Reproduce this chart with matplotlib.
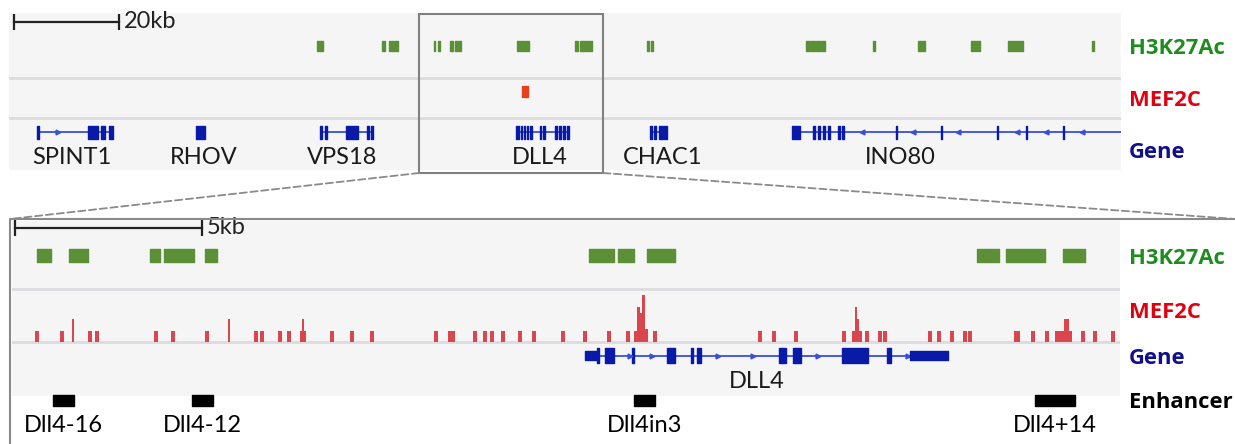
import matplotlib
matplotlib.use("Agg")
import matplotlib.pyplot as plt
from matplotlib.patches import Rectangle, ConnectionPatch
from matplotlib.lines import Line2D

plt.rcParams["font.family"] = ["Lato", "DejaVu Sans"]

# ---------------- data (positions in kb from the left edge of each view) ----------------
top_view_kb = 212.6
top_scale_kb = 20
top_zoom_kb = (78.4, 113.6)

top_h3k27ac = [(58.9, 60.0), (71.4, 71.8), (72.6, 72.9), (73.1, 73.4), (73.7, 74.3),
               (81.2, 81.4), (82.0, 82.4), (84.3, 84.9), (85.3, 85.7), (85.9, 86.4),
               (97.1, 97.7), (97.9, 98.5), (98.7, 99.4), (108.2, 108.8), (109.2, 110.0),
               (110.1, 110.9), (111.1, 111.5), (122.0, 122.4), (122.8, 123.1),
               (152.4, 153.2), (153.3, 154.1), (154.3, 155.1), (155.3, 156.0),
               (165.2, 165.5), (173.8, 174.4), (174.6, 175.2), (183.9, 184.4),
               (184.7, 185.1), (185.3, 185.7), (191.0, 191.6), (191.8, 192.4),
               (192.5, 193.1), (193.3, 193.9), (207.1, 207.4)]
top_mef2c = [(98.1, 99.2)]

top_gene_names = ["SPINT1", "RHOV", "VPS18", "DLL4", "CHAC1", "INO80"]
top_gene_label_kb = [12.0, 37.3, 63.7, 101.5, 125.0, 170.4]
top_gene_strand = ["+", "-", "+", "+", "+", "-"]
top_gene_span = [(5.4, 19.8), (35.8, 37.5), (59.5, 69.6), (96.9, 107.1),
                 (122.6, 125.8), (149.7, 212.6)]
top_gene_exons = [
    [(5.4, 5.8), (15.1, 17.0), (17.6, 18.4), (19.1, 19.9)],
    [(35.8, 36.1), (36.4, 37.5)],
    [(59.5, 59.9), (60.4, 60.8), (64.4, 66.7), (68.5, 68.8), (69.2, 69.6)],
    [(96.9, 97.5), (97.9, 98.1), (98.5, 98.7), (99.0, 99.2), (99.6, 100.0),
     (101.5, 101.7), (102.1, 102.5), (104.4, 104.8), (105.2, 105.6),
     (105.9, 106.3), (106.7, 107.1)],
    [(122.6, 122.9), (123.3, 123.7), (124.3, 125.0), (125.2, 125.8)],
    [(149.7, 151.2), (153.7, 154.1), (154.7, 155.1), (155.6, 156.0), (156.6, 157.0),
     (158.5, 158.9), (159.3, 159.7), (169.6, 169.8), (178.2, 178.4),
     (188.9, 189.1), (194.5, 194.7), (201.5, 201.7)],
]
top_gene_chevrons = [[9.4], [], [], [], [], [163.1, 172.8, 181.5, 192.7, 198.3, 205.2]]

bot_view_kb = 29.63
bot_scale_kb = 5
bot_h3k27ac = [(0.67, 1.04), (1.52, 2.03), (3.69, 3.96), (4.06, 4.87), (5.16, 5.48),
               (15.43, 16.10), (16.20, 16.63), (16.98, 17.73), (25.80, 26.39),
               (26.58, 27.62), (28.10, 28.69)]

mef2c_kb = [0.67, 1.34, 1.63, 2.09, 2.27, 3.85, 4.30, 5.21, 5.80, 6.52, 6.68, 7.17, 7.41,
            7.78, 7.78, 8.56, 9.09, 9.63, 11.34, 11.76, 12.38, 12.65, 12.83, 13.13, 13.58,
            13.96, 14.73, 15.32, 15.96, 16.47, 16.68, 16.75, 16.82, 16.89, 16.97, 17.19,
            20.00, 20.37, 20.96, 22.25, 22.50, 22.57, 22.62, 22.67, 22.86, 23.21, 23.34,
            24.55, 24.79, 25.13, 25.48, 25.61, 26.87, 27.30, 27.67, 27.94, 28.02, 28.10,
            28.20, 28.29, 28.64, 28.96, 29.44]
mef2c_signal = [1, 1, 2.1, 1, 1, 1, 1, 1, 2.1, 1, 1, 1, 1,
                1, 2.1, 1, 1, 1, 1, 1, 1, 1, 1, 1, 1,
                1, 1, 1, 1, 1, 1, 3.2, 2.6, 4.3, 1.2, 1,
                1, 1, 1, 1, 1, 3.2, 2.1, 1, 1, 1, 1,
                1, 1, 1, 1, 1, 1, 1, 1, 1, 1, 1,
                2.1, 1, 1, 1, 1]
mef2c_width = [0.1, 0.1, 0.06, 0.1, 0.1, 0.1, 0.1, 0.1, 0.06, 0.1, 0.1, 0.1, 0.1,
               0.16, 0.05, 0.1, 0.1, 0.1, 0.1, 0.19, 0.1, 0.1, 0.1, 0.1, 0.1,
               0.1, 0.1, 0.1, 0.1, 0.1, 0.1, 0.08, 0.08, 0.08, 0.1, 0.1,
               0.1, 0.1, 0.1, 0.1, 0.1, 0.06, 0.06, 0.1, 0.1, 0.1, 0.1,
               0.1, 0.1, 0.1, 0.1, 0.1, 0.17, 0.1, 0.1, 0.09, 0.09, 0.09,
               0.14, 0.1, 0.1, 0.1, 0.1]

dll4_span = (15.32, 25.03)
dll4_exons = [(15.64, 15.70), (15.86, 16.10), (16.58, 16.63), (17.51, 17.73), (18.16, 18.21),
              (18.32, 18.42), (20.51, 20.70), (20.88, 21.10), (22.19, 22.89), (23.40, 23.50)]
dll4_utrs = [(15.32, 15.66), (24.01, 25.03)]
dll4_chevrons = [16.52, 17.11, 18.88, 19.81, 21.55, 23.96]
dll4_label_kb = 19.92

enhancer_names = ["Dll4-16", "Dll4-12", "Dll4in3", "Dll4+14"]
enhancer_span = [(1.10, 1.66), (4.81, 5.37), (16.63, 17.19), (27.35, 28.42)]

# ---------------- style ----------------
W, H = 1235, 444
BG = "#f5f5f5"
SEP = "#dcdce0"
GREEN = "#5b9037"
RED = "#d9464d"
RED_TOP = "#e8401c"
BLUE = "#0a1aa8"
BLUE_LINE = "#3a4fd6"
FS = 17


def px_axes(x0, y0, x1, y1):
    return fig.add_axes([x0 / W, 1 - y1 / H, (x1 - x0) / W, (y1 - y0) / H])


def draw_gene(ax, span, exons, y, h, strand, chevrons):
    ax.plot(span, [y, y], color=BLUE_LINE, lw=1.3, solid_capstyle="butt", zorder=2)
    ax.broken_barh([(s, e - s) for s, e in exons], (y - h / 2, h), color=BLUE, zorder=3)
    if chevrons:
        ax.plot(chevrons, [y] * len(chevrons), ls="none",
                marker=">" if strand == "+" else "<", ms=3.5, color=BLUE_LINE, zorder=3)


fig = plt.figure(figsize=(W / 100, H / 100), dpi=100)

# ---------------- top overview ----------------
ax_t = px_axes(9, 12, 1121, 175)
ax_t.set_xlim(0, top_view_kb)
ax_t.set_ylim(175, 12)
ax_t.axis("off")
ax_t.add_patch(Rectangle((0, 13), top_view_kb, 157, color=BG, zorder=0, lw=0))
for ysep in (78, 118):
    ax_t.axhline(ysep, color=SEP, lw=2, zorder=1)

ax_t.plot([1.0, 1.0 + top_scale_kb], [22, 22], color="#222222", lw=1.6,
          marker="|", ms=11, mew=1.6)
ax_t.text(1.0 + top_scale_kb + 1.0, 21, f"{top_scale_kb}kb", fontsize=FS,
          va="center", ha="left", color="#222222")

ax_t.broken_barh([(s, e - s) for s, e in top_h3k27ac], (41, 10), color=GREEN, zorder=2)
ax_t.broken_barh([(s, e - s) for s, e in top_mef2c], (86, 11), color=RED_TOP, zorder=2)

for name, lab, strand, span, exons, chev in zip(top_gene_names, top_gene_label_kb,
                                                top_gene_strand, top_gene_span,
                                                top_gene_exons, top_gene_chevrons):
    draw_gene(ax_t, span, exons, 132, 13, strand, chev)
    ax_t.text(lab, 157, name, fontsize=FS, ha="center", va="center", color="#1a1a1a")

ax_t.add_patch(Rectangle((top_zoom_kb[0], 14), top_zoom_kb[1] - top_zoom_kb[0], 159,
                         fill=False, ec="#808080", lw=1.5, zorder=5, clip_on=False))

# ---------------- bottom zoom ----------------
ax_b = px_axes(12, 219, 1120, 444)
ax_b.set_xlim(0, bot_view_kb)
ax_b.set_ylim(444, 219)
ax_b.axis("off")
ax_b.add_patch(Rectangle((0, 221), bot_view_kb, 175, color=BG, zorder=0, lw=0))
for ysep in (289, 342):
    ax_b.axhline(ysep, color=SEP, lw=2, zorder=1)

ax_b.plot([0.08, 0.08 + bot_scale_kb], [228, 228], color="#222222", lw=1.6,
          marker="|", ms=11, mew=1.6)
ax_b.text(0.08 + bot_scale_kb + 0.13, 227, f"{bot_scale_kb}kb", fontsize=FS,
          va="center", ha="left", color="#222222")

ax_b.broken_barh([(s, e - s) for s, e in bot_h3k27ac], (249, 13), color=GREEN, zorder=2)

draw_gene(ax_b, dll4_span, dll4_exons, 356, 15, "+", dll4_chevrons)
ax_b.broken_barh([(s, e - s) for s, e in dll4_utrs], (351, 9), color=BLUE, zorder=3)
ax_b.text(dll4_label_kb, 381, "DLL4", fontsize=FS, ha="center", va="center",
          color="#1a1a1a")

ax_b.broken_barh([(s, e - s) for s, e in enhancer_span], (395, 11), color="black", zorder=2)
for name, (s, e) in zip(enhancer_names, enhancer_span):
    ax_b.text((s + e) / 2, 425, name, fontsize=FS, ha="center", va="center", color="black")

ax_m = px_axes(12, 289, 1120, 342)
ax_m.set_xlim(0, bot_view_kb)
ax_m.set_ylim(0, 4.8)
ax_m.axis("off")
ax_m.bar(mef2c_kb, mef2c_signal, width=mef2c_width, color=RED, lw=0, zorder=3)

# frame of the zoom panel and connectors
fig.add_artist(Line2D([10 / W, 10 / W, 1.0], [0, 1 - 219 / H, 1 - 219 / H],
                      color="#8a8a8a", lw=1.5))
for kb, xb in ((top_zoom_kb[0], 10), (top_zoom_kb[1], 1235)):
    con = ConnectionPatch(xyA=(kb, 173), coordsA=ax_t.transData,
                          xyB=(xb, H - 219), coordsB="figure pixels",
                          color="#8a8a8a", lw=1.3, ls=(0, (4, 2)))
    fig.add_artist(con)

# track names
labels = [("H3K27Ac", 48, "#1e8c1e"), ("MEF2C", 100, "#e0000f"), ("Gene", 152, "#10108a"),
          ("H3K27Ac", 258, "#1e8c1e"), ("MEF2C", 312, "#e0000f"), ("Gene", 358, "#10108a"),
          ("Enhancer", 402, "black")]
for txt, y, c in labels:
    fig.text(1129 / W, 1 - y / H, txt, fontsize=15.8, fontweight="bold", color=c,
             family=["Open Sans", "DejaVu Sans"], ha="left", va="center")

fig.savefig("out.png", dpi=100, facecolor="white")
